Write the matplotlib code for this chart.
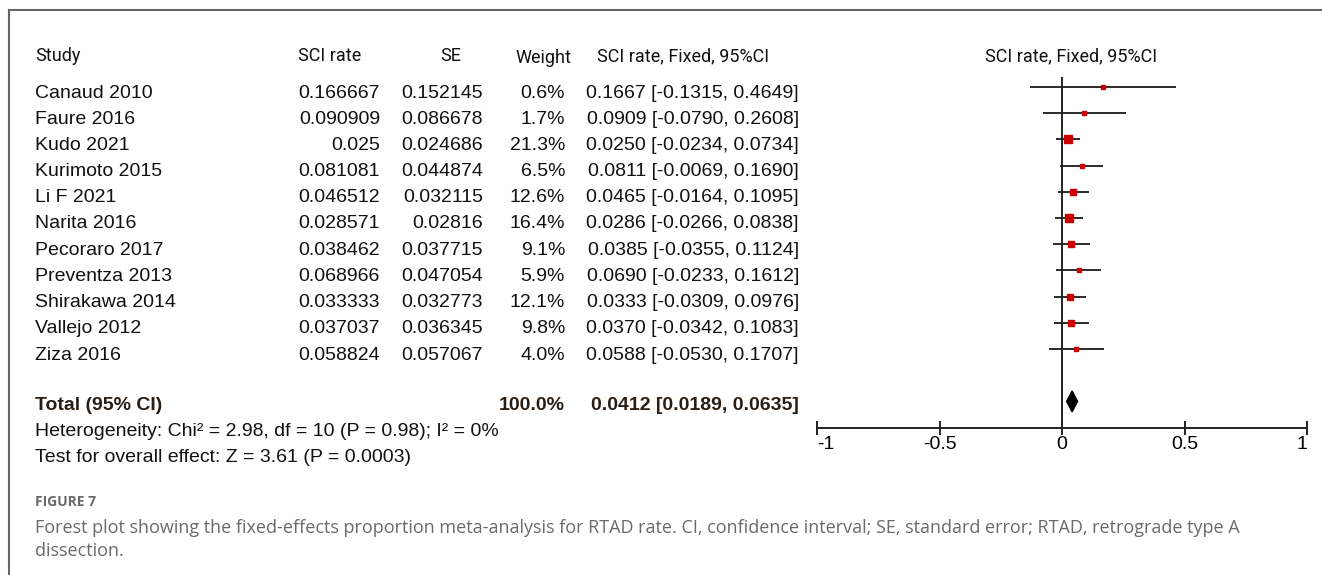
import matplotlib
matplotlib.use("Agg")
import matplotlib.pyplot as plt
from matplotlib.lines import Line2D
from matplotlib.patches import Polygon
import numpy as np

# ---- data ----
studies = ["Canaud 2010", "Faure 2016", "Kudo 2021", "Kurimoto 2015", "Li F 2021",
           "Narita 2016", "Pecoraro 2017", "Preventza 2013", "Shirakawa 2014",
           "Vallejo 2012", "Ziza 2016"]
sci_rate = [0.166667, 0.090909, 0.025, 0.081081, 0.046512, 0.028571, 0.038462,
            0.068966, 0.033333, 0.037037, 0.058824]
se = [0.152145, 0.086678, 0.024686, 0.044874, 0.032115, 0.02816, 0.037715,
      0.047054, 0.032773, 0.036345, 0.057067]
weight = [0.6, 1.7, 21.3, 6.5, 12.6, 16.4, 9.1, 5.9, 12.1, 9.8, 4.0]
ci_est = [0.1667, 0.0909, 0.0250, 0.0811, 0.0465, 0.0286, 0.0385, 0.0690, 0.0333, 0.0370, 0.0588]
ci_low = [-0.1315, -0.0790, -0.0234, -0.0069, -0.0164, -0.0266, -0.0355, -0.0233, -0.0309, -0.0342, -0.0530]
ci_high = [0.4649, 0.2608, 0.0734, 0.1690, 0.1095, 0.0838, 0.1124, 0.1612, 0.0976, 0.1083, 0.1707]
total_est, total_low, total_high = 0.0412, 0.0189, 0.0635
xticks = [-1, -0.5, 0, 0.5, 1]
xtick_labels = ["-1", "-0.5", "0", "0.5", "1"]

W, H = 1322, 575
fig = plt.figure(figsize=(W / 100, H / 100), dpi=100)


def px(x, y):
    return x / W, 1 - y / H


def put(x, y, s, **kw):
    kw.setdefault("va", "center")
    kw.setdefault("fontsize", 14)
    kw.setdefault("family", ["Liberation Sans", "DejaVu Sans"])
    kw.setdefault("color", "#111111")
    fig.text(*px(x, y), s, **kw)


# frame (top and left only)
fig.add_artist(Line2D([9 / W, 1], [1 - 10 / H] * 2, color="#666666", lw=1.5))
fig.add_artist(Line2D([9 / W] * 2, [1 - 10 / H, 0], color="#666666", lw=1.5))

# ---- header ----
hdr = dict(fontsize=13, family=["Roboto", "DejaVu Sans"], color="#111111")
put(35, 56, "Study", **hdr)
put(298, 56, "SCI rate", **hdr)
put(451, 56, "SE", ha="center", **hdr)
put(543, 58, "Weight", ha="center", **hdr)
put(683, 56, "SCI rate, Fixed, 95%CI", ha="center", **hdr)
put(1071, 56, "SCI rate, Fixed, 95%CI", ha="center", **hdr)

# ---- table rows ----
row0, step = 93, 26.2
for i, name in enumerate(studies):
    y = row0 + i * step
    put(35, y, name)
    put(380, y, f"{sci_rate[i]:g}", ha="right")
    put(483, y, f"{se[i]:g}", ha="right")
    put(565, y, f"{weight[i]:.1f}%", ha="right")
    put(799, y, f"{ci_est[i]:.4f} [{ci_low[i]:.4f}, {ci_high[i]:.4f}]", ha="right")

put(35, 405, "Total (95% CI)", fontweight="bold", color="#2a1e14")
put(565, 405, f"{sum(weight):.1f}%", ha="right", fontweight="bold", color="#2a1e14")
put(799, 405, f"{total_est:.4f} [{total_low:.4f}, {total_high:.4f}]", ha="right",
    fontweight="bold", color="#2a1e14")
put(35, 431, "Heterogeneity: Chi² = 2.98, df = 10 (P = 0.98); I² = 0%")
put(35, 458, "Test for overall effect: Z = 3.61 (P = 0.0003)")

# ---- caption ----
cap = dict(family=["Open Sans", "DejaVu Sans"], color="#6a6a6a")
put(35, 502, "FIGURE 7", fontsize=10, fontweight="bold", **cap)
put(35, 528, "Forest plot showing the fixed-effects proportion meta-analysis for RTAD rate. "
             "CI, confidence interval; SE, standard error; RTAD, retrograde type A",
    fontsize=13, **cap)
put(35, 551, "dissection.", fontsize=13, **cap)

# ---- forest panel ----
mark0 = 87
top_px, bot_px = 60, 470
left_px, right_px = 817, 1307
ax = fig.add_axes([left_px / W, 1 - bot_px / H, (right_px - left_px) / W, (bot_px - top_px) / H])
ax.set_xlim(-1, 1)
ax.set_ylim((bot_px - mark0) / step, (top_px - mark0) / step)
ax.patch.set_visible(False)

rows = np.arange(len(studies))
ax.hlines(rows, ci_low, ci_high, color="#2a2a2a", lw=1.4, clip_on=False)
sizes = np.maximum(3.2, 8.5 * np.sqrt(np.array(weight) / max(weight))) * 0.72
for r, x, s in zip(rows, ci_est, sizes):
    ax.plot(x, r, marker="s", ms=s, color="#cc0000", mec="#cc0000", zorder=3)

total_row = len(studies) + 1
axis_row = len(studies) + 2
ax.vlines(0, (77 - mark0) / step, axis_row, color="#222222", lw=1.4)
ax.add_patch(Polygon([[total_low, total_row], [total_est, total_row - 0.4],
                      [total_high, total_row], [total_est, total_row + 0.4]],
                     closed=True, color="black"))

for side in ("top", "left", "right"):
    ax.spines[side].set_visible(False)
ax.spines["bottom"].set_position(("data", axis_row))
ax.spines["bottom"].set_bounds(-1, 1)
ax.spines["bottom"].set_linewidth(1.4)
ax.spines["bottom"].set_color("#222222")
ax.set_yticks([])
ax.set_xticks(xticks)
ax.set_xticklabels(xtick_labels, fontsize=14, family=["Liberation Sans", "DejaVu Sans"])
ax.tick_params(axis="x", direction="inout", length=9.5, width=1.4, color="#222222", pad=1)
labels = ax.get_xticklabels()
labels[0].set_ha("left")
labels[-1].set_ha("right")

fig.savefig("out.png", dpi=100)
